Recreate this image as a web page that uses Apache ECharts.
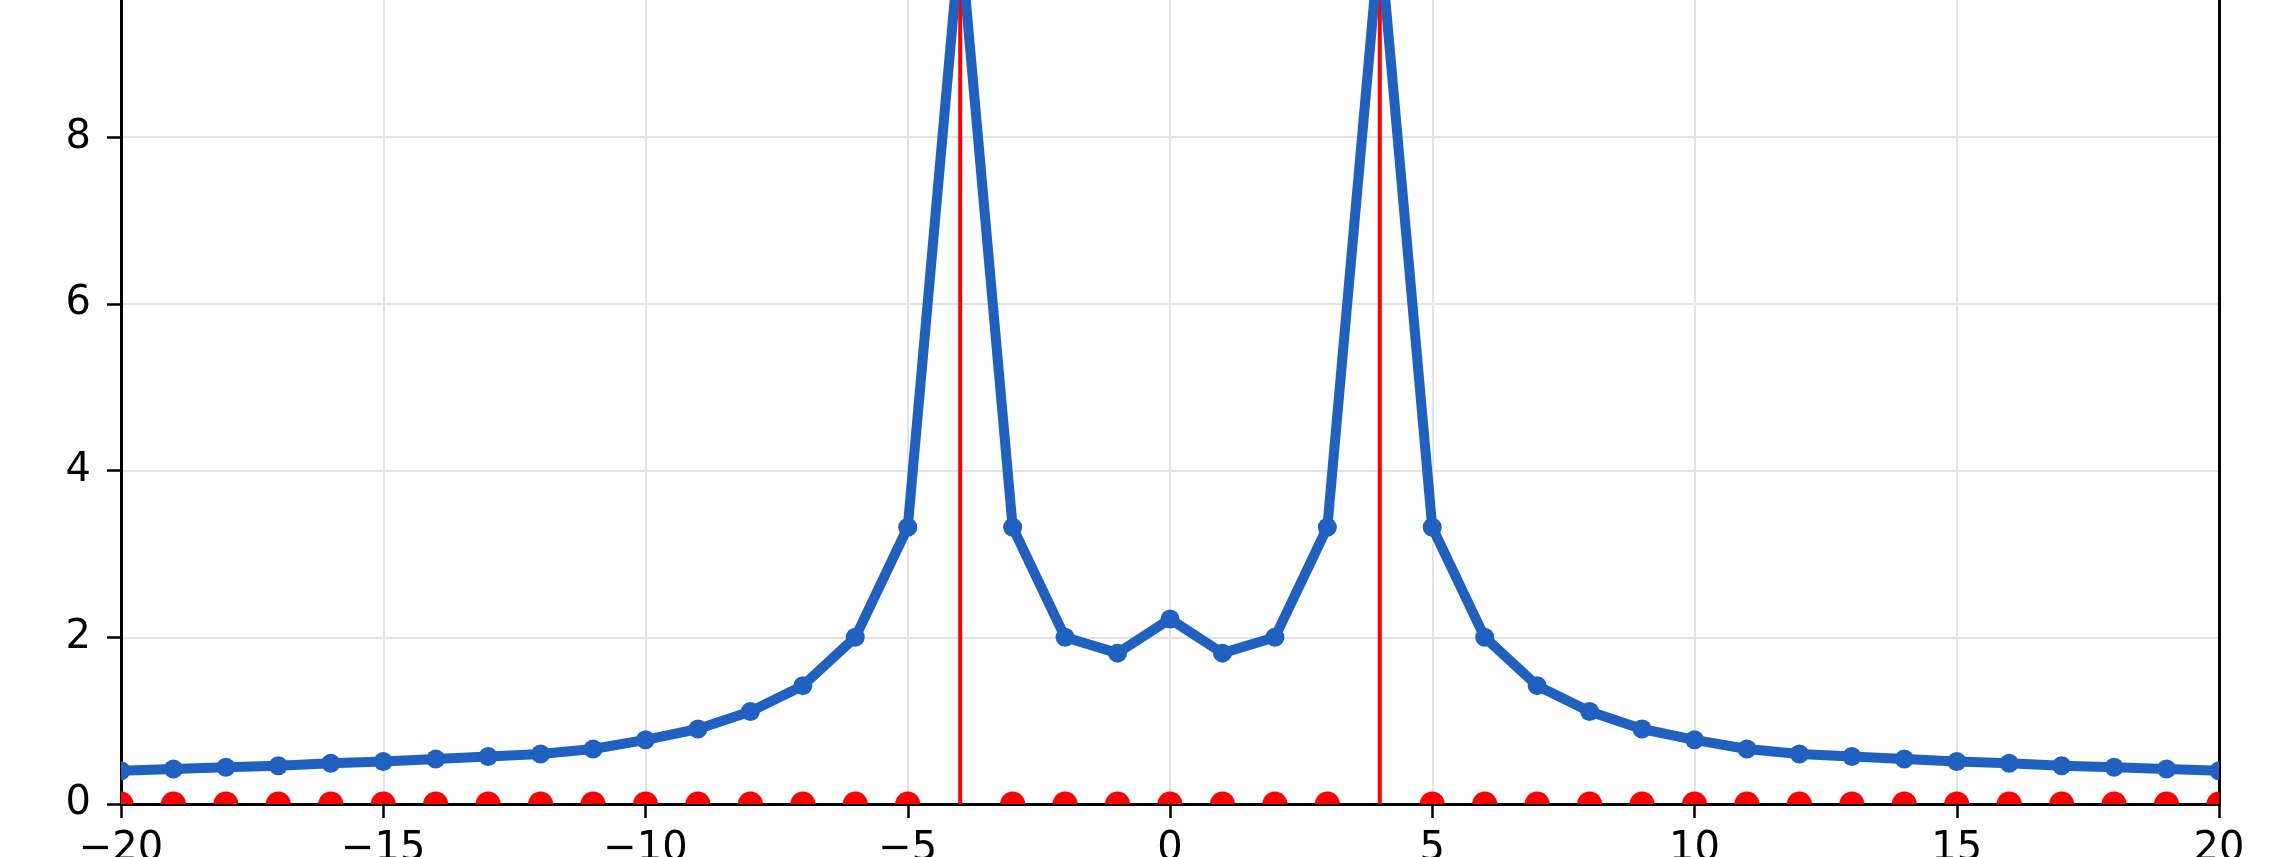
<!DOCTYPE html>
<html>
<head>
<meta charset="utf-8">
<script src="https://cdn.jsdelivr.net/npm/echarts@6/dist/echarts.min.js"></script>
<style>
  html, body { margin: 0; padding: 0; background: #fff; }
  #chart { width: 2286px; height: 857px; }
</style>
</head>
<body>
<div id="chart"></div>
<script>
// values
const xValues = [-20, -19, -18, -17, -16, -15, -14, -13, -12, -11, -10, -9, -8, -7, -6, -5, -4, -3, -2, -1,
  0, 1, 2, 3, 4, 5, 6, 7, 8, 9, 10, 11, 12, 13, 14, 15, 16, 17, 18, 19, 20]
const blueValues = [0.40, 0.42, 0.44, 0.46, 0.49, 0.51, 0.54, 0.57, 0.60, 0.66, 0.77, 0.90, 1.11, 1.42, 2.00, 3.32, 10.4, 3.32, 2.00, 1.81,
  2.22, 1.81, 2.00, 3.32, 10.4, 3.32, 2.00, 1.42, 1.11, 0.90, 0.77, 0.66, 0.60, 0.57, 0.54, 0.51, 0.49, 0.46, 0.44, 0.42, 0.40]
const stemX = [-4, 4]
const stemTop = [10.4, 10.4]
const dotX = xValues.filter(x => !stemX.includes(x))
const dotY = dotX.map(() => 0)
const xTickInterval = 5
const yTickInterval = 2

const xMin = -20
const xMax = 20
const yMax = 9.67

const BLUE = '#2060c0'
const RED = '#ff0000'
const FONT = 'DejaVu Sans'

// half / quarter shapes for points sitting on the plot border
const halfRight = 'path://M0,0 A10,10 0 0 1 0,20 Z'
const halfLeft = 'path://M10,0 A10,10 0 0 0 10,20 Z'
const halfTop = 'path://M0,10 A10,10 0 0 1 20,10 Z'
const quarterTopRight = 'path://M0,10 L0,0 A10,10 0 0 1 10,10 Z'
const quarterTopLeft = 'path://M10,10 L10,0 A10,10 0 0 0 0,10 Z'

const blueSize = 19
const blueData = xValues.map((x, i) => {
  const item = { value: [x, blueValues[i]] }
  if (x === xMin) {
    item.symbol = halfRight
    item.symbolSize = [blueSize / 2, blueSize]
    item.symbolOffset = [blueSize / 4, 0]
  } else if (x === xMax) {
    item.symbol = halfLeft
    item.symbolSize = [blueSize / 2, blueSize]
    item.symbolOffset = [-blueSize / 4, 0]
  }
  return item
})

const dotSize = 25
const dotData = dotX.map((x, i) => {
  const item = { value: [x, dotY[i]], symbol: halfTop, symbolSize: [dotSize, dotSize / 2], symbolOffset: [0, -dotSize / 4] }
  if (x === xMin) {
    item.symbol = quarterTopRight
    item.symbolSize = [dotSize / 2, dotSize / 2]
    item.symbolOffset = [dotSize / 4, -dotSize / 4]
  } else if (x === xMax) {
    item.symbol = quarterTopLeft
    item.symbolSize = [dotSize / 2, dotSize / 2]
    item.symbolOffset = [-dotSize / 4, -dotSize / 4]
  }
  return item
})

const stemSeries = stemX.map((x, i) => ({
  type: 'line',
  data: [[x, 0], [x, stemTop[i]]],
  symbol: 'none',
  lineStyle: { color: RED, width: 4 },
  z: 2,
  animation: false
}))

const fmtMinus = v => (v < 0 ? '\u2212' + Math.abs(v) : String(v))

const chart = echarts.init(document.getElementById('chart'))
chart.setOption({
  backgroundColor: '#fff',
  animation: false,
  grid: { left: 121, right: 67, top: -2, bottom: 53, containLabel: false, outerBoundsMode: 'none' },
  xAxis: {
    type: 'value',
    min: xMin,
    max: xMax,
    interval: xTickInterval,
    axisLine: { show: true, onZero: false, lineStyle: { color: '#000', width: 3 } },
    axisTick: { show: true, inside: false, length: 14, lineStyle: { color: '#000', width: 2.5 } },
    axisLabel: { color: '#000', fontFamily: FONT, fontSize: 40, margin: 26, formatter: fmtMinus },
    splitLine: { show: true, lineStyle: { color: '#e3e3e3', width: 2 } }
  },
  yAxis: [
    {
      type: 'value',
      position: 'left',
      min: 0,
      max: yMax,
      interval: yTickInterval,
      axisLine: { show: true, onZero: false, lineStyle: { color: '#000', width: 3 } },
      axisTick: { show: true, inside: false, length: 14, lineStyle: { color: '#000', width: 2.5 } },
      axisLabel: { color: '#000', fontFamily: FONT, fontSize: 40, margin: 30, showMaxLabel: false },
      splitLine: { show: true, lineStyle: { color: '#e3e3e3', width: 2 } }
    },
    {
      type: 'value',
      position: 'right',
      min: 0,
      max: yMax,
      interval: yTickInterval,
      axisLine: { show: true, onZero: false, lineStyle: { color: '#000', width: 3 } },
      axisTick: { show: false },
      axisLabel: { show: false },
      splitLine: { show: false }
    }
  ],
  series: [
    ...stemSeries,
    {
      type: 'scatter',
      data: dotData,
      itemStyle: { color: RED, opacity: 1 },
      z: 3,
      animation: false
    },
    {
      type: 'line',
      data: blueData,
      symbol: 'circle',
      symbolSize: blueSize,
      showAllSymbol: true,
      lineStyle: { color: BLUE, width: 10, join: 'round' },
      itemStyle: { color: BLUE, opacity: 1 },
      z: 4,
      animation: false
    }
  ]
})
</script>
</body>
</html>
